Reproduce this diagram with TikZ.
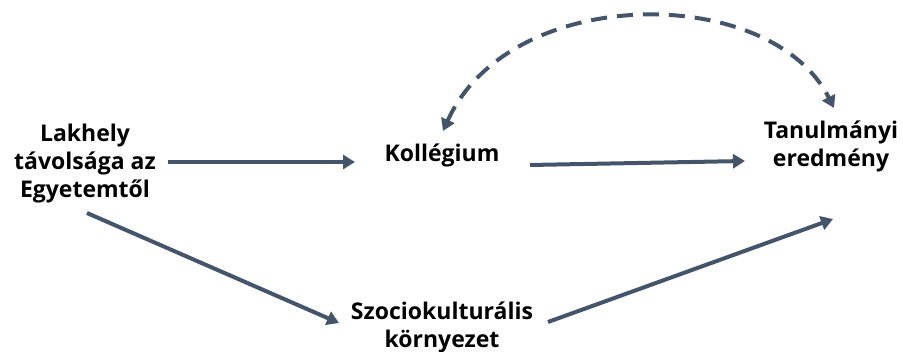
\documentclass[tikz,border=0pt]{standalone}
\usepackage{fontspec}
\setmainfont{Open Sans}
\usetikzlibrary{arrows.meta}
\definecolor{arrcol}{HTML}{44546A}
\tikzset{
	label/.style={font=\bfseries\fontsize{23}{28}\selectfont, align=center, inner sep=0pt},
	arr/.style={draw=arrcol, line width=4pt, -{Triangle[width=14pt,length=12pt]}},
}
\begin{document}
\begin{tikzpicture}[x=1pt,y=-1pt]
	\useasboundingbox (0,0) rectangle (903,352);
	\node[label] (lak) at (85,164) {Lakhely\\távolsága az\\Egyetemtől};
	\node[label] (kol) at (442,155) {Kollégium};
	\node[label] (tan) at (831,146) {Tanulmányi\\eredmény};
	\node[label] (szo) at (442,327) {Szociokulturális\\környezet};
	\draw[arr] ([shift={(83,-2)}]lak.center) -- ([shift={(-87,7)}]kol.center);
	\draw[arr] ([shift={(88,10)}]kol.center) -- ([shift={(-86,15)}]tan.center);
	\draw[arr] ([shift={(2,49)}]lak.center) -- ([shift={(-103,-4)}]szo.center);
	\draw[arr] ([shift={(106,-5)}]szo.center) -- ([shift={(2,73)}]tan.center);
	% dashed two-way link
	\draw[arr, {Triangle[width=14pt,length=12pt]}-{Triangle[width=14pt,length=12pt]}, dash pattern=on 16pt off 10pt]
		([shift={(1,-24)}]kol.center) .. controls (510,-17) and (771,-17) .. ([shift={(3,-38)}]tan.center);
\end{tikzpicture}
\end{document}
